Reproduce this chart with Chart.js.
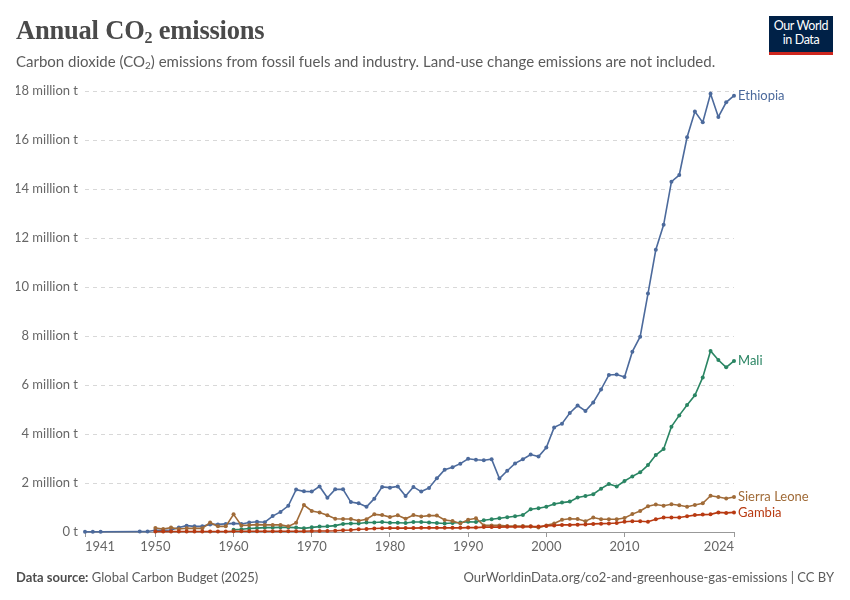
<!DOCTYPE html>
<html>
<head>
<meta charset="utf-8">
<script src="https://cdn.jsdelivr.net/npm/chart.js@4"></script>
<style>
    body { margin: 0; background: #fff; }
    #wrap { position: relative; width: 850px; height: 600px; font-family: Lato, "Noto Sans", sans-serif; }
    #chart { position: absolute; left: 0; top: 0; }
    .title { position: absolute; left: 16px; top: 15px; font-family: "Liberation Serif", "DejaVu Serif", serif; font-size: 26.5px; font-weight: bold; color: #4a4a4a; letter-spacing: -0.2px; }
    .title sub { font-size: 16px; vertical-align: -4px; line-height: 0; }
    .subtitle { position: absolute; left: 16px; top: 52px; font-size: 15px; color: #5b5b5b; }
    .subtitle sub { font-size: 10px; vertical-align: -2px; line-height: 0; }
    .logo { position: absolute; left: 769px; top: 16px; width: 64px; height: 33px; background: #002147; border-bottom: 3px solid #ce261e; color: #fff; font-size: 12.5px; line-height: 14px; text-align: center; padding-top: 3px; box-sizing: content-box; letter-spacing: -0.4px; }
    .foot { position: absolute; top: 569px; font-size: 13px; color: #5b5b5b; }
    .foot b { color: #4e4e4e; }
</style>
</head>
<body>
<div id="wrap">
    <canvas id="chart" width="850" height="600"></canvas>
    <div class="title">Annual CO<sub>2</sub> emissions</div>
    <div class="subtitle">Carbon dioxide (CO<sub>2</sub>) emissions from fossil fuels and industry. Land-use change emissions are not included.</div>
    <div class="logo">Our World<br>in Data</div>
    <div class="foot" style="left:16px;"><b>Data source:</b> Global Carbon Budget (2025)</div>
    <div class="foot" style="right:16px;">OurWorldinData.org/co2-and-greenhouse-gas-emissions | CC BY</div>
</div>
<script>
// 数据 (百万吨)
const xTicks = [1941, 1950, 1960, 1970, 1980, 1990, 2000, 2010, 2024];
const yTicks = [0, 2, 4, 6, 8, 10, 12, 14, 16, 18];

const ethiopiaEarlyYears = [1941, 1942, 1943, 1948, 1949];
const ethiopiaEarly = [0.01, 0.01, 0.01, 0.02, 0.02];

// 1950-2024
const ethiopia = [
    0.07, 0.07, 0.08, 0.18, 0.26, 0.23, 0.23, 0.31, 0.31, 0.33,
    0.35, 0.33, 0.39, 0.42, 0.40, 0.65, 0.82, 1.07, 1.73, 1.66,
    1.65, 1.86, 1.40, 1.74, 1.74, 1.22, 1.17, 1.03, 1.36, 1.84,
    1.81, 1.86, 1.47, 1.84, 1.65, 1.80, 2.19, 2.54, 2.64, 2.79,
    2.99, 2.95, 2.93, 2.97, 2.18, 2.50, 2.80, 2.97, 3.16, 3.08,
    3.45, 4.27, 4.42, 4.86, 5.16, 4.94, 5.29, 5.82, 6.41, 6.43,
    6.33, 7.36, 7.97, 9.73, 11.52, 12.54, 14.30, 14.57, 16.11, 17.16,
    16.72, 17.89, 16.94, 17.54, 17.81
];

// 1960-2024
const mali = [
    0.09, 0.11, 0.14, 0.16, 0.18, 0.18, 0.19, 0.19, 0.18, 0.15,
    0.19, 0.22, 0.23, 0.26, 0.33, 0.35, 0.35, 0.39, 0.39, 0.41,
    0.38, 0.38, 0.37, 0.41, 0.41, 0.39, 0.37, 0.35, 0.37, 0.39,
    0.42, 0.41, 0.48, 0.52, 0.56, 0.60, 0.64, 0.69, 0.93, 0.97,
    1.03, 1.14, 1.20, 1.24, 1.41, 1.47, 1.54, 1.77, 1.96, 1.86,
    2.08, 2.27, 2.44, 2.73, 3.14, 3.39, 4.30, 4.76, 5.18, 5.58,
    6.31, 7.39, 7.02, 6.72, 6.98
];

// 1950-2024
const sierraLeone = [
    0.16, 0.12, 0.18, 0.12, 0.15, 0.15, 0.15, 0.39, 0.23, 0.23,
    0.72, 0.27, 0.28, 0.30, 0.29, 0.29, 0.29, 0.23, 0.38, 1.10,
    0.86, 0.80, 0.68, 0.54, 0.53, 0.53, 0.46, 0.52, 0.72, 0.69,
    0.61, 0.68, 0.54, 0.69, 0.63, 0.67, 0.67, 0.49, 0.45, 0.35,
    0.50, 0.56, 0.27, 0.27, 0.27, 0.24, 0.24, 0.24, 0.23, 0.18,
    0.27, 0.35, 0.50, 0.54, 0.53, 0.44, 0.59, 0.52, 0.52, 0.52,
    0.57, 0.73, 0.86, 1.05, 1.12, 1.07, 1.13, 1.09, 1.03, 1.10,
    1.17, 1.48, 1.43, 1.37, 1.43
];

// 1950-2024
const gambia = [
    0.02, 0.02, 0.02, 0.02, 0.02, 0.02, 0.02, 0.02, 0.02, 0.02,
    0.03, 0.03, 0.03, 0.03, 0.03, 0.03, 0.03, 0.03, 0.03, 0.03,
    0.04, 0.04, 0.04, 0.05, 0.07, 0.08, 0.11, 0.12, 0.14, 0.15,
    0.16, 0.16, 0.16, 0.16, 0.17, 0.17, 0.17, 0.17, 0.17, 0.17,
    0.18, 0.18, 0.20, 0.20, 0.20, 0.21, 0.21, 0.21, 0.22, 0.22,
    0.25, 0.27, 0.29, 0.29, 0.30, 0.31, 0.33, 0.34, 0.35, 0.37,
    0.42, 0.44, 0.44, 0.42, 0.52, 0.59, 0.59, 0.59, 0.64, 0.69,
    0.71, 0.72, 0.80, 0.78, 0.80
];

// 把数组变成 {x, y} 点
function toPoints(startYear, values) {
    return values.map((v, i) => ({ x: startYear + i, y: v }));
}

const ethiopiaPoints = ethiopiaEarlyYears.map((yr, i) => ({ x: yr, y: ethiopiaEarly[i] }))
    .concat(toPoints(1950, ethiopia));

function series(label, data, color) {
    return {
        label: label,
        data: data,
        borderColor: color,
        backgroundColor: color,
        borderWidth: 1.6,
        pointRadius: 2,
        pointHoverRadius: 2,
        pointBorderWidth: 0,
        tension: 0,
        clip: false
    };
}

// 线尾的国家名
const endLabels = {
    id: 'endLabels',
    afterDatasetsDraw(chart) {
        const ctx = chart.ctx;
        ctx.save();
        ctx.font = '13px Lato';
        ctx.textBaseline = 'middle';
        ctx.textAlign = 'left';
        chart.data.datasets.forEach((ds, i) => {
            const pts = chart.getDatasetMeta(i).data;
            const last = pts[pts.length - 1];
            ctx.fillStyle = ds.borderColor;
            ctx.fillText(ds.label, last.x + 4, last.y);
        });
        ctx.restore();
    }
};

const ctx = document.getElementById('chart').getContext('2d');
new Chart(ctx, {
    type: 'line',
    data: {
        datasets: [
            series('Gambia', toPoints(1950, gambia), '#b83a12'),
            series('Sierra Leone', toPoints(1950, sierraLeone), '#a06b38'),
            series('Mali', toPoints(1960, mali), '#2a8563'),
            series('Ethiopia', ethiopiaPoints, '#4c6a9c')
        ]
    },
    plugins: [endLabels],
    options: {
        responsive: false,
        animation: false,
        layout: { padding: { left: 16, top: 91, right: 116, bottom: 44 } },
        plugins: {
            legend: { display: false },
            tooltip: { enabled: false }
        },
        scales: {
            x: {
                type: 'linear',
                min: 1941,
                max: 2024,
                afterBuildTicks: (scale) => { scale.ticks = xTicks.map(v => ({ value: v })); },
                afterFit: (scale) => { scale.height = 24; },
                grid: { drawOnChartArea: false, drawTicks: true, tickLength: 5, color: '#999' },
                border: { color: '#999' },
                ticks: {
                    color: '#666',
                    font: { family: 'Lato', size: 13 },
                    padding: 2,
                    maxRotation: 0,
                    autoSkip: false,
                    align: 'inner',
                    callback: (v) => String(v)
                }
            },
            y: {
                min: 0,
                max: 18,
                afterBuildTicks: (scale) => { scale.ticks = yTicks.map(v => ({ value: v })); },
                afterFit: (scale) => { scale.width = 69; },
                grid: {
                    color: (c) => c.tick.value === 0 ? 'rgba(0,0,0,0)' : '#d8d8d8',
                    drawTicks: false
                },
                border: { display: false, dash: [4, 4] },
                ticks: {
                    color: '#666',
                    font: { family: 'Lato', size: 13 },
                    padding: 7,
                    callback: (v) => v === 0 ? '0 t' : v + ' million t'
                }
            }
        }
    }
});
</script>
</body>
</html>
